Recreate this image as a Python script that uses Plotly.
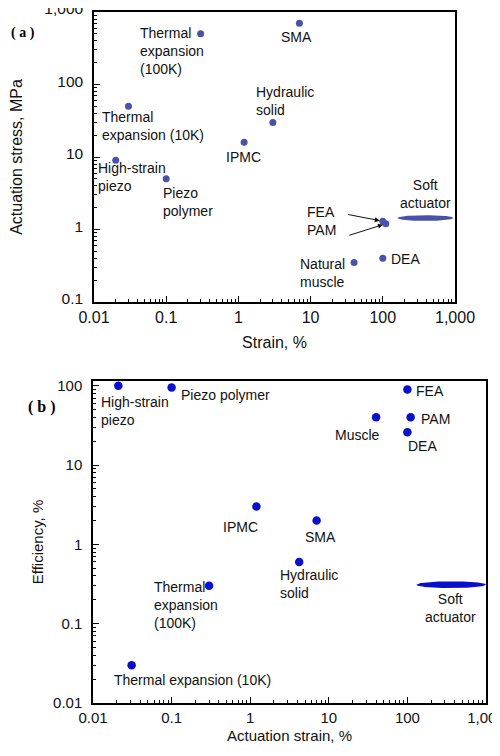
import numpy as np
import plotly.graph_objects as go

# ---------------- data: panel (a) ----------------
names_a = ["Thermal expansion (100K)", "SMA", "Thermal expansion (10K)", "Hydraulic solid",
           "IPMC", "High-strain piezo", "Piezo polymer", "FEA", "PAM", "Natural muscle", "DEA"]
strain_a = [0.3, 7, 0.03, 3, 1.2, 0.02, 0.1, 100, 110, 40, 100]
stress_a = [500, 700, 50, 30, 16, 9, 5, 1.3, 1.2, 0.35, 0.4]
soft_strain_a = [160, 950]
soft_stress_a = 1.44

# ---------------- data: panel (b) ----------------
names_b = ["High-strain piezo", "Piezo polymer", "FEA", "PAM", "Muscle", "DEA", "IPMC",
           "SMA", "Hydraulic solid", "Thermal expansion (100K)", "Thermal expansion (10K)"]
strain_b = [0.021, 0.1, 100, 110, 40, 100, 1.2, 7, 4.2, 0.3, 0.031]
eff_b = [100, 95, 90, 40, 40, 26, 3, 2, 0.6, 0.3, 0.03]
soft_strain_b = [130, 1000]
soft_eff_b = 0.31

tickvals_x = [0.01, 0.1, 1, 10, 100, 1000]
ticktext_x = ["0.01", "0.1", "1", "10", "100", "1,000"]
tickvals_ya = [0.1, 1, 10, 100, 1000]
ticktext_ya = ["0.1", "1", "10", "100", "1,000"]
tickvals_yb = [0.01, 0.1, 1, 10, 100]
ticktext_yb = ["0.01", "0.1", "1", "10", "100"]

# ---------------- label styling (text, dx px, dy px down to block top, anchor) ----
labels_a = [
    ("Thermal<br>expansion<br>(100K)", -63, -11, "left"),
    ("SMA", -3, 4, "center"),
    ("Thermal<br>expansion (10K)", -28, 1, "left"),
    ("Hydraulic<br>solid", -19, -40, "left"),
    ("IPMC", -1, 5, "center"),
    ("High-strain<br>piezo", -20, -2, "left"),
    ("Piezo<br>polymer", -5, 4, "left"),
    ("FEA", -78, -19, "left"),
    ("PAM", -81, -4, "left"),
    ("Natural<br>muscle", -56, -9, "left"),
    ("DEA", 6, -9, "left"),
]
soft_label_a = ("Soft<br>actuator", 0, -43, "center")

labels_b = [
    ("High-strain<br>piezo", -19, 6, "left"),
    ("Piezo polymer", 7, -3, "left"),
    ("FEA", 7, -8, "left"),
    ("PAM", 8, -8, "left"),
    ("Muscle", -19, 8, "center"),
    ("DEA", -1, 4, "left"),
    ("IPMC", -16, 10, "center"),
    ("SMA", 4, 6, "center"),
    ("Hydraulic<br>solid", -21, 3, "left"),
    ("Thermal<br>expansion<br>(100K)", -57, -9, "left"),
    ("Thermal expansion (10K)", 61, 5, "center"),
]
soft_label_b = ("Soft<br>actuator", -1, 4, "center")

COL_A = "#4a52a8"
COL_B = "#0a0fcc"
FONT = "Liberation Sans, Arial, sans-serif"
PAGE_W, PAGE_H, BODY_MARGIN = 500, 756, 8
W, H = PAGE_W - 2 * BODY_MARGIN, PAGE_H - 2 * BODY_MARGIN


def fx(px):  # page pixel -> paper fraction
    return (px - BODY_MARGIN) / W


def fy(py):
    return 1 - (py - BODY_MARGIN) / H


def ellipse(xr, yc, half_h_dec):
    lx = np.log10(xr)
    cx, rx = lx.mean(), (lx[1] - lx[0]) / 2
    cy = np.log10(yc)
    t = np.linspace(0, 2 * np.pi, 120)
    return 10 ** (cx + rx * np.cos(t)), 10 ** (cy + half_h_dec * np.sin(t)), 10 ** cx


fig = go.Figure()
fig.add_trace(go.Scatter(x=strain_a, y=stress_a, mode="markers", xaxis="x", yaxis="y",
                         marker=dict(color=COL_A, size=7), showlegend=False))
ex, ey, ecx_a = ellipse(np.array(soft_strain_a), soft_stress_a, 0.04)
fig.add_trace(go.Scatter(x=ex, y=ey, mode="lines", fill="toself", fillcolor=COL_A,
                         line=dict(width=0, color=COL_A), xaxis="x", yaxis="y", showlegend=False))

fig.add_trace(go.Scatter(x=strain_b, y=eff_b, mode="markers", xaxis="x2", yaxis="y2",
                         marker=dict(color=COL_B, size=8.5), showlegend=False))
ex, ey, ecx_b = ellipse(np.array(soft_strain_b), soft_eff_b, 0.043)
fig.add_trace(go.Scatter(x=ex, y=ey, mode="lines", fill="toself", fillcolor=COL_B,
                         line=dict(width=0, color=COL_B), xaxis="x2", yaxis="y2", showlegend=False))

ann = []


def add_label(text, x, y, dx, dy, anchor, xr, yr):
    ann.append(dict(text=text, x=np.log10(x), y=np.log10(y), xref=xr, yref=yr,
                    xanchor=anchor, yanchor="top", align=anchor,
                    xshift=dx, yshift=-dy, showarrow=False,
                    font=dict(family=FONT, size=14, color="#111")))


for (t, dx, dy, a), x, y in zip(labels_a, strain_a, stress_a):
    add_label(t, x, y, dx, dy, a, "x", "y")
add_label(soft_label_a[0], ecx_a, soft_stress_a, soft_label_a[1], soft_label_a[2], soft_label_a[3], "x", "y")
for (t, dx, dy, a), x, y in zip(labels_b, strain_b, eff_b):
    add_label(t, x, y, dx, dy, a, "x2", "y2")
add_label(soft_label_b[0], ecx_b, soft_eff_b, soft_label_b[1], soft_label_b[2], soft_label_b[3], "x2", "y2")

# arrows FEA / PAM in panel (a)
for i, (axp, ayp) in zip([7, 8], [(-36, -7), (-38, 12)]):
    ann.append(dict(x=np.log10(strain_a[i]), y=np.log10(stress_a[i]), xref="x", yref="y",
                    ax=axp, ay=ayp, text="", showarrow=True, arrowhead=2, arrowsize=1,
                    arrowwidth=1, standoff=3, arrowcolor="#111"))

# panel letters
ann.append(dict(text="<b>( a )</b>", x=fx(9), y=fy(33), xref="paper", yref="paper",
                xanchor="left", yanchor="middle", showarrow=False,
                font=dict(family="Liberation Serif, Times New Roman, serif", size=14, color="black")))
ann.append(dict(text="<b>( b )</b>", x=fx(26), y=fy(407), xref="paper", yref="paper",
                xanchor="left", yanchor="middle", showarrow=False,
                font=dict(family="Liberation Serif, Times New Roman, serif", size=16, color="black")))


def axis(**kw):
    d = dict(type="log", showline=True, linecolor="black", linewidth=1.5, mirror=True,
             showgrid=False, zeroline=False, ticks="inside", ticklen=6, tickwidth=1.2,
             tickcolor="black", tickmode="array", ticklabeloverflow="allow",
             minor=dict(ticks="inside", ticklen=3, tickcolor="black", tickwidth=1, dtick="D1", showgrid=False),
             automargin=False)
    d.update(kw)
    return d


fig.update_layout(
    width=W, height=H, margin=dict(l=0, r=0, t=0, b=0),
    paper_bgcolor="white", plot_bgcolor="white",
    font=dict(family=FONT, color="#111"),
    xaxis=axis(domain=[fx(94), fx(455)], anchor="y", range=[-2, 3],
               tickvals=tickvals_x, ticktext=ticktext_x, tickfont=dict(size=16),
               title=dict(text="Strain, %", font=dict(size=16), standoff=12)),
    yaxis=axis(domain=[fy(302), fy(12)], anchor="x", range=[-1, 3],
               tickvals=tickvals_ya, ticktext=ticktext_ya, tickfont=dict(size=15.5),
               ticklabelstandoff=6, ticklabelshift=-3,
               title=dict(text="Actuation stress, MPa", font=dict(size=16), standoff=18)),
    xaxis2=axis(domain=[fx(93), fx(486)], anchor="y2", range=[-2, 3],
                tickvals=tickvals_x, ticktext=ticktext_x, tickfont=dict(size=15),
                title=dict(text="Actuation strain, %", font=dict(size=15), standoff=6)),
    yaxis2=axis(domain=[fy(703), fy(381)], anchor="x2", range=[-2, 2.06],
                tickvals=tickvals_yb, ticktext=ticktext_yb, tickfont=dict(size=15),
                ticklabelstandoff=6,
                title=dict(text="Efficiency, %", font=dict(size=15), standoff=6)),
    annotations=ann,
)

fig.write_html("out.html")
